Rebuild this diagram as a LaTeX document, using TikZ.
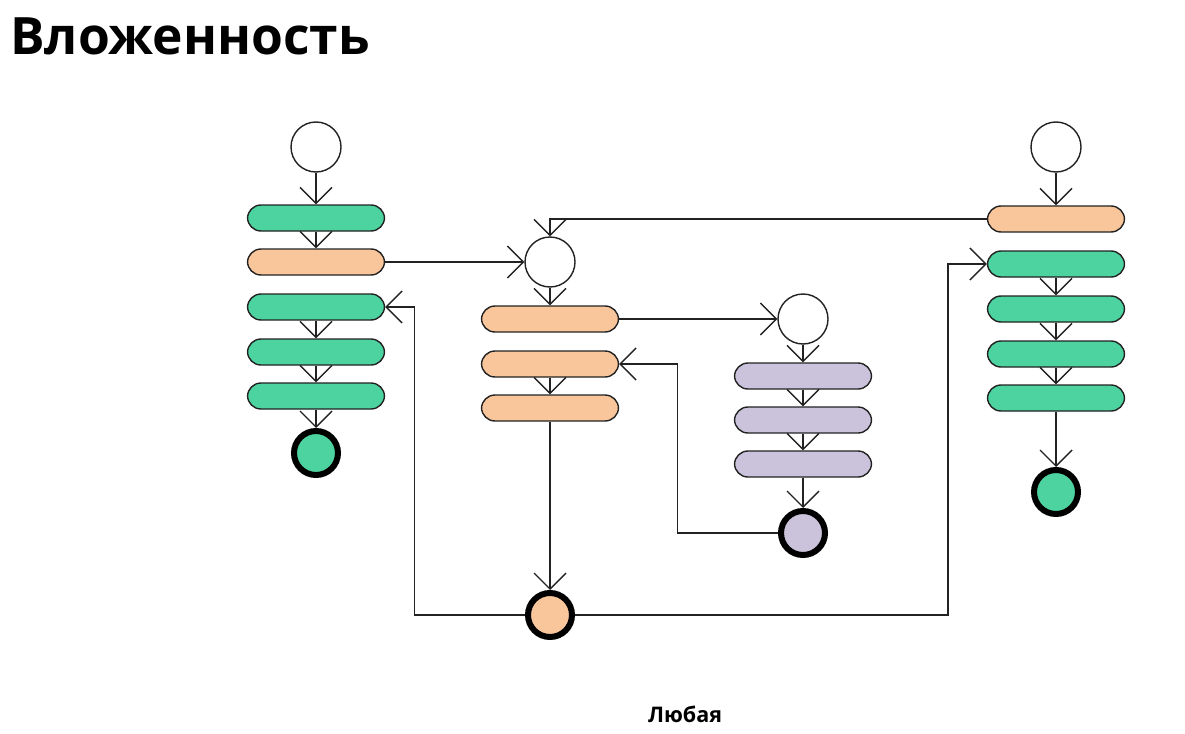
\documentclass[tikz,border=0pt]{standalone}
\usepackage{fontspec}
\setmainfont{Open Sans}
\usetikzlibrary{arrows.meta}
\definecolor{cgreen}{HTML}{4CD3A0}
\definecolor{corange}{HTML}{F9C69B}
\definecolor{clav}{HTML}{CBC3DC}
\definecolor{cline}{HTML}{222222}
\tikzset{
  bar/.style={draw=cline, line width=1.4pt, rectangle, rounded corners=13.5pt,
    minimum width=137pt, minimum height=26pt, inner sep=0pt},
  gbar/.style={bar, fill=cgreen},
  obar/.style={bar, fill=corange},
  lbar/.style={bar, fill=clav},
  startc/.style={draw=cline, line width=1.4pt, circle, fill=white, minimum size=50pt, inner sep=0pt},
  endc/.style={draw=black, line width=6pt, circle, minimum size=44pt, inner sep=0pt},
  conn/.style={draw=cline, line width=1.4pt, -{Straight Barb[length=16pt,width=32pt,line width=1.4pt]}},
}
\begin{document}
\begin{tikzpicture}[x=1pt,y=-1pt]
\useasboundingbox (0,0) rectangle (1185,733);
\node[anchor=base west, font=\fontsize{51.5}{60}\selectfont\bfseries, inner sep=0pt] (title) at (10,55) {Вложенность};
\node[font=\fontsize{21.5}{25}\selectfont\bfseries, inner sep=0pt] (lab) at (685,714) {Любая};

% column 1
\node[startc] (s1) at (316,147) {};
\node[gbar] (g11) at (316,218) {};
\node[obar] (o11) at (316,262) {};
\node[gbar] (g13) at (316,307) {};
\node[gbar] (g14) at (316,352) {};
\node[gbar] (g15) at (316,396) {};
\node[endc, fill=cgreen] (f1) at (316,453) {};

% column 2
\node[startc] (s2) at (550,262) {};
\node[obar] (o21) at (550,319) {};
\node[obar] (o22) at (550,364) {};
\node[obar] (o23) at (550,408) {};
\node[endc, fill=corange] (f2) at (550,615) {};

% column 3
\node[startc] (s3) at (803,319) {};
\node[lbar] (l31) at (803,376) {};
\node[lbar] (l32) at (803,420) {};
\node[lbar] (l33) at (803,464) {};
\node[endc, fill=clav] (f3) at (803,533) {};

% column 4
\node[startc] (s4) at (1056,147) {};
\node[obar] (o41) at (1056,219) {};
\node[gbar] (g41) at (1056,264) {};
\node[gbar] (g42) at (1056,309) {};
\node[gbar] (g43) at (1056,354) {};
\node[gbar] (g44) at (1056,398) {};
\node[endc, fill=cgreen] (f4) at (1056,492) {};

% vertical flows
\draw[conn] (s1) -- (g11);
\draw[conn] (g11) -- (o11);
\draw[conn] (g13) -- (g14);
\draw[conn] (g14) -- (g15);
\draw[conn] (g15) -- (f1);

\draw[conn] (s2) -- (o21);
\draw[conn] (o22) -- (o23);
\draw[conn] (o23) -- (f2);

\draw[conn] (s3) -- (l31);
\draw[conn] (l31) -- (l32);
\draw[conn] (l32) -- (l33);
\draw[conn] (l33) -- (f3);

\draw[conn] (s4) -- (o41);
\draw[conn] (g41) -- (g42);
\draw[conn] (g42) -- (g43);
\draw[conn] (g43) -- (g44);
\draw[conn] (g44) -- (f4);

% cross links
\coordinate (k1) at ([xshift=29pt]g13.east);
\coordinate (k2) at ([xshift=-39pt]g41.west);
\coordinate (k3) at ([xshift=58pt]o22.east);
\draw[conn] (o11.east) -- (s2.west);
\draw[conn] (o21.east) -- (s3.west);
\draw[conn] (f3.west) -| (k3) -- (o22.east);
\draw[conn] (f2.west) -| (k1) -- (g13.east);
\draw[conn] (f2.east) -| (k2) -- (g41.west);
\draw[conn] (o41.west) -| (s2.north);
\end{tikzpicture}
\end{document}
